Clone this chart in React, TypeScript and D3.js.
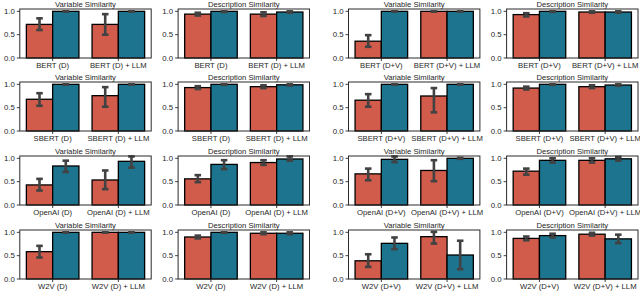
import React from "react";
import * as d3 from "d3";

const models = ["BERT", "SBERT", "OpenAI", "W2V"];
const inputs = ["D", "D", "D+V", "D+V"];
const metrics = ["Variable Similarity", "Description Similarity", "Variable Similarity", "Description Similarity"];
const yTicks = [0, 0.5, 1.0];

// one row per model, one entry per panel column; each entry = [base A, base B, +LLM A, +LLM B]
const bertMean = [[0.72, 1.0, 0.72, 1.0], [0.94, 1.0, 0.94, 0.985], [0.36, 1.0, 1.0, 1.0], [0.93, 1.0, 0.985, 0.985]];
const bertLow = [[0.6, 0.995, 0.5, 0.995], [0.91, 0.985, 0.9, 0.97], [0.24, 0.995, 0.995, 0.995], [0.89, 0.99, 0.97, 0.97]];
const bertHigh = [[0.85, 1.0, 0.94, 1.0], [0.97, 1.0, 0.98, 1.0], [0.49, 1.0, 1.0, 1.0], [0.96, 1.0, 1.0, 1.0]];

const sbertMean = [[0.68, 1.0, 0.757, 1.0], [0.93, 1.0, 0.95, 0.99], [0.66, 1.0, 0.75, 1.0], [0.92, 1.0, 0.95, 0.985]];
const sbertLow = [[0.54, 0.995, 0.52, 0.995], [0.9, 0.99, 0.92, 0.975], [0.52, 0.995, 0.4, 0.995], [0.89, 0.99, 0.92, 0.97]];
const sbertHigh = [[0.81, 1.0, 0.94, 1.0], [0.96, 1.0, 0.98, 1.0], [0.79, 1.0, 0.92, 1.0], [0.95, 1.0, 0.98, 1.0]];

const openaiMean = [[0.43, 0.836, 0.536, 0.936], [0.56, 0.87, 0.91, 0.986], [0.667, 0.978, 0.74, 1.0], [0.725, 0.957, 0.957, 0.99]];
const openaiLow = [[0.31, 0.71, 0.34, 0.8], [0.49, 0.77, 0.86, 0.95], [0.53, 0.92, 0.51, 0.99], [0.65, 0.91, 0.91, 0.95]];
const openaiHigh = [[0.56, 0.95, 0.74, 1.04], [0.64, 0.96, 0.96, 1.04], [0.78, 1.04, 0.96, 1.01], [0.78, 1.0, 1.0, 1.03]];

const w2vMean = [[0.586, 1.0, 1.0, 1.0], [0.9, 1.0, 0.98, 0.98], [0.39, 0.764, 0.907, 0.514], [0.87, 0.93, 0.96, 0.86]];
const w2vLow = [[0.46, 0.995, 0.995, 0.995], [0.87, 0.99, 0.96, 0.96], [0.26, 0.64, 0.76, 0.21], [0.83, 0.89, 0.93, 0.77]];
const w2vHigh = [[0.71, 1.0, 1.0, 1.0], [0.93, 1.0, 1.0, 1.0], [0.53, 0.89, 1.01, 0.82], [0.91, 0.97, 0.99, 0.95]];

const means = [bertMean, sbertMean, openaiMean, w2vMean];
const lows = [bertLow, sbertLow, openaiLow, w2vLow];
const highs = [bertHigh, sbertHigh, openaiHigh, w2vHigh];

const colors = ["#d15c4b", "#1c748f"];
const colLeft = [19.8, 178.1, 348.5, 506.6];
const rowTop = [9, 82, 156, 230];
const panelW = 131.4;
const panelH = 49;
const font = "'Liberation Sans', Arial, sans-serif";
const errColor = "#424242";

function Panel({ row, col }: { row: number; col: number }) {
  const x = d3.scaleLinear().domain([-0.5, 1.5]).range([0, panelW]);
  const y = d3.scaleLinear().domain([0, 1.05]).range([panelH, 0]);
  const m = means[row][col];
  const lo = lows[row][col];
  const hi = highs[row][col];
  const cats = [`${models[row]} (${inputs[col]})`, `${models[row]} (${inputs[col]}) + LLM`];
  const capHalf = x(0.05) - x(0);

  const bars = m.map((v, i) => {
    const g = Math.floor(i / 2);
    const h = i % 2;
    const x0 = g - 0.4 + h * 0.4;
    return { v, lo: lo[i], hi: hi[i], x0, x1: x0 + 0.4, color: colors[h] };
  });

  return (
    <g transform={`translate(${colLeft[col]},${rowTop[row]})`}>
      {bars.map((b, i) => (
        <rect
          key={"b" + i}
          x={x(b.x0)}
          y={y(b.v)}
          width={x(b.x1) - x(b.x0)}
          height={y(0) - y(b.v)}
          fill={b.color}
          stroke="#000"
          strokeWidth={1.3}
        />
      ))}
      {bars.map((b, i) => {
        const cx = x((b.x0 + b.x1) / 2);
        return (
          <g key={"e" + i} stroke={errColor} strokeWidth={2.6}>
            <line x1={cx} x2={cx} y1={y(b.lo)} y2={y(b.hi)} />
            <line x1={cx - capHalf} x2={cx + capHalf} y1={y(b.lo)} y2={y(b.lo)} />
            <line x1={cx - capHalf} x2={cx + capHalf} y1={y(b.hi)} y2={y(b.hi)} />
          </g>
        );
      })}
      <rect x={0} y={0} width={panelW} height={panelH} fill="none" stroke="#2b2b2b" strokeWidth={1} />
      {yTicks.map((t) => (
        <g key={"y" + t} transform={`translate(0,${y(t)})`}>
          <line x1={-3} x2={0} stroke="#2b2b2b" strokeWidth={0.9} />
          <text x={-5} dy="0.32em" textAnchor="end" fontSize={7.8} fontFamily={font} fill="#262626">
            {t.toFixed(1)}
          </text>
        </g>
      ))}
      {cats.map((c, i) => (
        <g key={"x" + i} transform={`translate(${x(i)},${panelH})`}>
          <line y1={0} y2={3} stroke="#2b2b2b" strokeWidth={0.9} />
          <text y={9.6} textAnchor="middle" fontSize={7.7} fontFamily={font} fill="#262626">
            {c}
          </text>
        </g>
      ))}
      <text x={panelW / 2} y={-2} textAnchor="middle" fontSize={7.7} fontFamily={font} fill="#262626">
        {metrics[col]}
      </text>
    </g>
  );
}

export default function App() {
  return (
    <svg width={640} height={292} style={{ position: "absolute", left: 0, top: 0, background: "#fff" }}>
      {models.map((_, r) => metrics.map((__, c) => <Panel key={r + "-" + c} row={r} col={c} />))}
    </svg>
  );
}
